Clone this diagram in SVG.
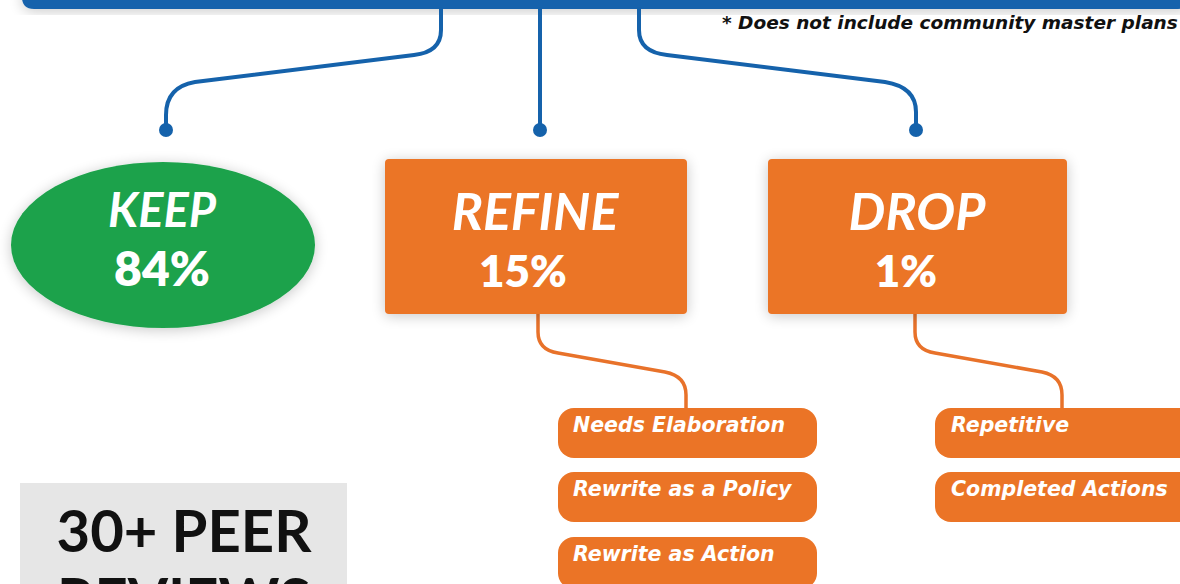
<svg xmlns="http://www.w3.org/2000/svg" width="1180" height="584" viewBox="0 0 1180 584">
  <defs>
    <filter id="sh" x="-20%" y="-30%" width="140%" height="160%">
      <feGaussianBlur in="SourceAlpha" stdDeviation="7"/>
      <feOffset dx="0" dy="2" result="b"/>
      <feComponentTransfer><feFuncA type="linear" slope="0.22"/></feComponentTransfer>
      <feMerge><feMergeNode/><feMergeNode in="SourceGraphic"/></feMerge>
    </filter>
    <style>
      .blue{fill:none;stroke:#1562AB;stroke-width:4;stroke-linecap:round}
      .dot{fill:#1562AB}
      .or{fill:none;stroke:#E8722A;stroke-width:3.5;stroke-linecap:round}
      .box{fill:#EB7426}
      .head{font-family:"Lato","Open Sans",sans-serif;font-weight:700;font-style:italic;fill:#fff;font-size:52px}
      .pct{font-family:"Lato","Open Sans",sans-serif;font-weight:800;fill:#fff;font-size:44px}
      .sub{font-family:"DejaVu Sans",sans-serif;font-style:italic;font-weight:700;fill:#fff;font-size:20.5px}
      .note{font-family:"DejaVu Sans",sans-serif;font-style:italic;font-weight:700;fill:#111;font-size:18.5px}
      .peer{font-family:"Lato","Open Sans",sans-serif;font-weight:700;fill:#111;font-size:58px}
    </style>
  </defs>
  <rect width="1180" height="584" fill="#fff"/>

  <g id="top-bar">
    <path d="M22,-10 H1190 V-2 Q1190,9 1178,9 H34 Q22,9 22,-3 Z" fill="#1462AC" filter="url(#sh)"/>
    <text class="note" x="722" y="29">* Does not include community master plans</text>
  </g>

  <g id="connectors">
    <path class="blue" d="M441,9 V30 Q441,52 414,55 L195,82 Q166,87 166,115 V130"/>
    <path class="blue" d="M540,9 V130"/>
    <path class="blue" d="M639,9 V30 Q639,52 667,55 L885,82 Q916,87 916,112 V130"/>
    <circle class="dot" cx="166" cy="130" r="7"/>
    <circle class="dot" cx="540" cy="130" r="7"/>
    <circle class="dot" cx="916" cy="130" r="7"/>
    <path class="or" d="M538,314 V332 Q538,350 558,353 L665,372 Q686,376 686,395 V408"/>
    <path class="or" d="M915,314 V332 Q915,350 935,353 L1042,372 Q1062,376 1062,395 V408"/>
  </g>

  <g id="keep">
    <ellipse cx="163" cy="245" rx="152" ry="83" fill="#1CA24B" filter="url(#sh)"/>
    <text class="head" x="162" y="227" text-anchor="middle" style="font-size:47px">KEEP</text>
    <text class="pct" x="162" y="286" text-anchor="middle" style="font-size:48px">84%</text>
  </g>

  <g id="refine">
    <rect class="box" x="385" y="159" width="302" height="155" rx="4" filter="url(#sh)"/>
    <text class="head" x="535" y="230" text-anchor="middle">REFINE</text>
    <text class="pct" x="523" y="287" text-anchor="middle">15%</text>
  </g>

  <g id="drop">
    <rect class="box" x="768" y="159" width="299" height="155" rx="4" filter="url(#sh)"/>
    <text class="head" x="917" y="230" text-anchor="middle">DROP</text>
    <text class="pct" x="906" y="287" text-anchor="middle">1%</text>
  </g>

  <g id="needs-elaboration">
    <rect class="box" x="558" y="408" width="259" height="50" rx="16"/>
    <text class="sub" x="573" y="432">Needs Elaboration</text>
  </g>
  <g id="rewrite-policy">
    <rect class="box" x="558" y="472" width="259" height="50" rx="16"/>
    <text class="sub" x="573" y="496">Rewrite as a Policy</text>
  </g>
  <g id="rewrite-action">
    <rect class="box" x="558" y="537" width="259" height="52" rx="16"/>
    <text class="sub" x="573" y="561">Rewrite as Action</text>
  </g>
  <g id="repetitive">
    <rect class="box" x="935" y="408" width="270" height="50" rx="16"/>
    <text class="sub" x="951" y="432">Repetitive</text>
  </g>
  <g id="completed-actions">
    <rect class="box" x="935" y="472" width="270" height="50" rx="16"/>
    <text class="sub" x="951" y="496">Completed Actions</text>
  </g>

  <g id="peer-reviews">
    <rect x="20" y="483" width="327" height="120" fill="#E6E6E6"/>
    <text class="peer" x="184" y="552" text-anchor="middle">30+ PEER</text>
    <text class="peer" x="184" y="620" text-anchor="middle">REVIEWS</text>
  </g>
</svg>
